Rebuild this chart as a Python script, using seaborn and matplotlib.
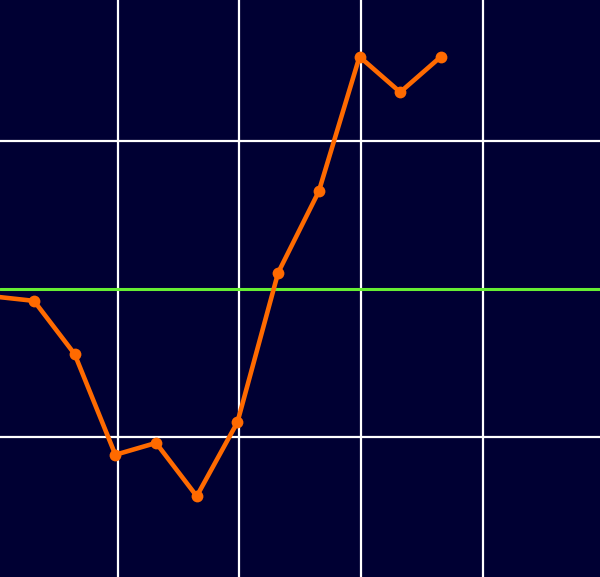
import numpy as np
import pandas as pd
import matplotlib
matplotlib.use("Agg")
import matplotlib.pyplot as plt
import seaborn as sns

# valores
x_vals = [0, 1, 2, 3, 4, 5, 6, 7, 8, 9, 10, 11]
y_vals = [-0.05, -0.08, -0.44, -1.12, -1.04, -1.40, -0.90, 0.11, 0.66, 1.57, 1.33, 1.57]
x_grid = [3.06, 6.04, 9.04, 12.03]
y_grid = [-1, 0, 1]
nivel_base = 0.0

df = pd.DataFrame({"x": x_vals, "y": y_vals})

sns.set_style("dark")
fig = plt.figure(figsize=(6, 5.77), dpi=100)
ax = fig.add_axes([0, 0, 1, 1])
ax.set_facecolor("#000033")

for gx in x_grid:
    ax.axvline(gx, color="white", lw=1.6, zorder=1)
for gy in y_grid:
    if gy != nivel_base:
        ax.axhline(gy, color="white", lw=1.6, zorder=1)
ax.axhline(nivel_base, color="#66ee33", lw=2.2, zorder=2)

sns.lineplot(data=df, x="x", y="y", ax=ax, color="#ff6a00", lw=3.3,
             marker="o", markersize=8.5, markeredgewidth=0, zorder=3)

ax.set_xlim(0.165, 14.91)
ax.set_ylim(-1.946, 1.953)
ax.set_xticks([])
ax.set_yticks([])
ax.set_xlabel("")
ax.set_ylabel("")
for s in ax.spines.values():
    s.set_visible(False)

fig.savefig("out.png", dpi=100, facecolor="#000033")
